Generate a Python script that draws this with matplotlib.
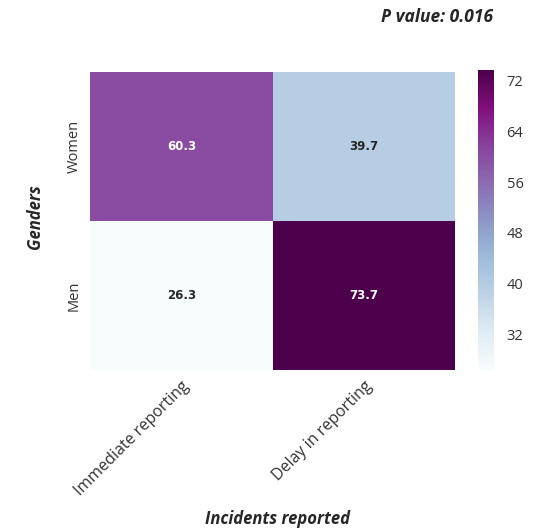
import numpy as np
import matplotlib
matplotlib.use("Agg")
import matplotlib.pyplot as plt
import seaborn as sns

# percentages of incidents by gender and reporting timing
genders = ["Women", "Men"]
reporting = ["Immediate reporting", "Delay in reporting"]
women_vals = [60.3, 39.7]
men_vals = [26.3, 73.7]
cbar_ticks = [32, 40, 48, 56, 64, 72]

data = np.array([women_vals, men_vals])

sns.set_style("white")
plt.rcParams['font.family'] = ['Open Sans', 'DejaVu Sans']

fig = plt.figure(figsize=(5.33, 5.31), dpi=100)
ax = fig.add_axes([0.169, 0.303, 0.685, 0.562])
cax = fig.add_axes([0.897, 0.303, 0.030, 0.565])

# colours follow the data range (lightest = 26.3, darkest = 73.7)
sns.heatmap(data, ax=ax, cbar_ax=cax, cmap="BuPu",
            annot=True, fmt=".1f",
            annot_kws={"fontsize": 8.5, "fontweight": "bold", "family": "DejaVu Sans"},
            xticklabels=reporting, yticklabels=genders,
            cbar_kws={"ticks": cbar_ticks})

ax.tick_params(axis="both", length=0, colors="#333333")
ax.tick_params(axis="x", labelsize=11.5, pad=6)
ax.tick_params(axis="y", labelsize=10.5, pad=6)
plt.setp(ax.get_xticklabels(), rotation=45, ha="right", rotation_mode="anchor")
plt.setp(ax.get_yticklabels(), rotation=90, va="center")
cax.tick_params(length=0, labelsize=10.5, colors="#333333", pad=9)

fig.text(0.52, 0.022, "Incidents reported", ha="center", va="center",
         fontsize=12, fontweight="bold", fontstyle="italic")
fig.text(0.066, 0.592, "Genders", ha="center", va="center", rotation=90,
         fontsize=12, fontweight="bold", fontstyle="italic")
fig.text(0.82, 0.968, "P value: 0.016", ha="center", va="center",
         fontsize=12.5, fontweight="bold", fontstyle="italic")

fig.savefig("out.png", dpi=100)
